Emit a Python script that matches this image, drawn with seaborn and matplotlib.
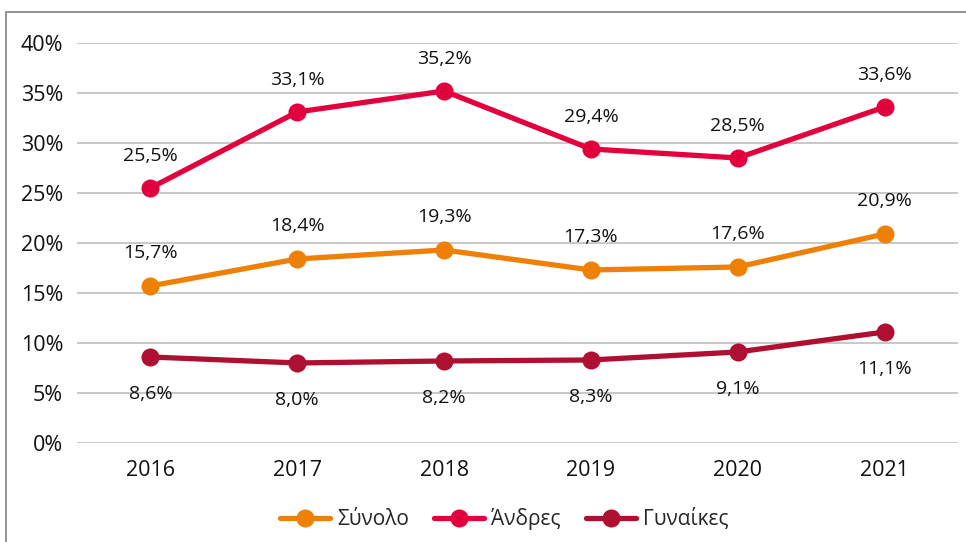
import pandas as pd
import seaborn as sns
import matplotlib.pyplot as plt
from matplotlib.patches import Rectangle

# Data (%)
years = [2016, 2017, 2018, 2019, 2020, 2021]
total = [15.7, 18.4, 19.3, 17.3, 17.6, 20.9]
men = [25.5, 33.1, 35.2, 29.4, 28.5, 33.6]
women = [8.6, 8.0, 8.2, 8.3, 9.1, 11.1]
series_names = ['Σύνολο', 'Άνδρες', 'Γυναίκες']

df = pd.DataFrame({
    'Έτος': years * 3,
    'Τιμή': total + men + women,
    'Σειρά': [series_names[0]] * 6 + [series_names[1]] * 6 + [series_names[2]] * 6,
})

palette = {'Σύνολο': '#EE8105', 'Άνδρες': '#E2013D', 'Γυναίκες': '#AF0F30'}

sns.set_style('white')
plt.rcParams['font.family'] = ['Open Sans', 'DejaVu Sans']

fig = plt.figure(figsize=(9.66, 5.42), dpi=100)
ax = fig.add_axes([0.0797, 0.1827, 0.912, 0.738])

# Outer frame (only left and top edges visible in the original)
fig.patches.append(Rectangle((0.0062, -0.1), 1.2, 1.0779, transform=fig.transFigure,
                             fill=False, edgecolor='#7f7f7f', linewidth=1.2))

sns.lineplot(data=df, x='Έτος', y='Τιμή', hue='Σειρά', palette=palette,
             marker='o', markersize=13, markeredgewidth=0, linewidth=3.8,
             ax=ax, legend=False, zorder=3)

# Data labels
def fmt(v):
    return f'{v:.1f}%'.replace('.', ',')

for vals, dy in [(total, 24), (men, 23), (women, -27)]:
    for x, v in zip(years, vals):
        ax.annotate(fmt(v), (x, v), xytext=(0, dy), textcoords='offset points',
                    ha='center', va='center', fontsize=14, color='#111111')

ax.set_xlim(2015.5, 2021.5)
ax.set_ylim(0, 40)
ax.set_xticks(years)
ax.set_xticklabels([str(y) for y in years])
ax.set_yticks(range(0, 41, 5))
ax.set_yticklabels([f'{t}%' for t in range(0, 41, 5)])
ax.grid(axis='y', color='#bfbfbf', linewidth=1.2)
ax.set_axisbelow(True)
for s in ax.spines.values():
    s.set_visible(False)
ax.tick_params(axis='both', length=0, labelsize=15.5, colors='#111111')
ax.tick_params(axis='y', pad=10)
ax.tick_params(axis='x', pad=12)
ax.set_xlabel('')
ax.set_ylabel('')

handles = [plt.Line2D([0], [0], color=palette[n], marker='o', markersize=13,
                      linewidth=3.8, markeredgewidth=0) for n in series_names]
fig.legend(handles, series_names, loc='center', bbox_to_anchor=(0.522, 0.042),
           ncol=3, frameon=False, fontsize=15, handlelength=2.4,
           columnspacing=1.2, handletextpad=0.35)

plt.savefig('out.png', dpi=100)
